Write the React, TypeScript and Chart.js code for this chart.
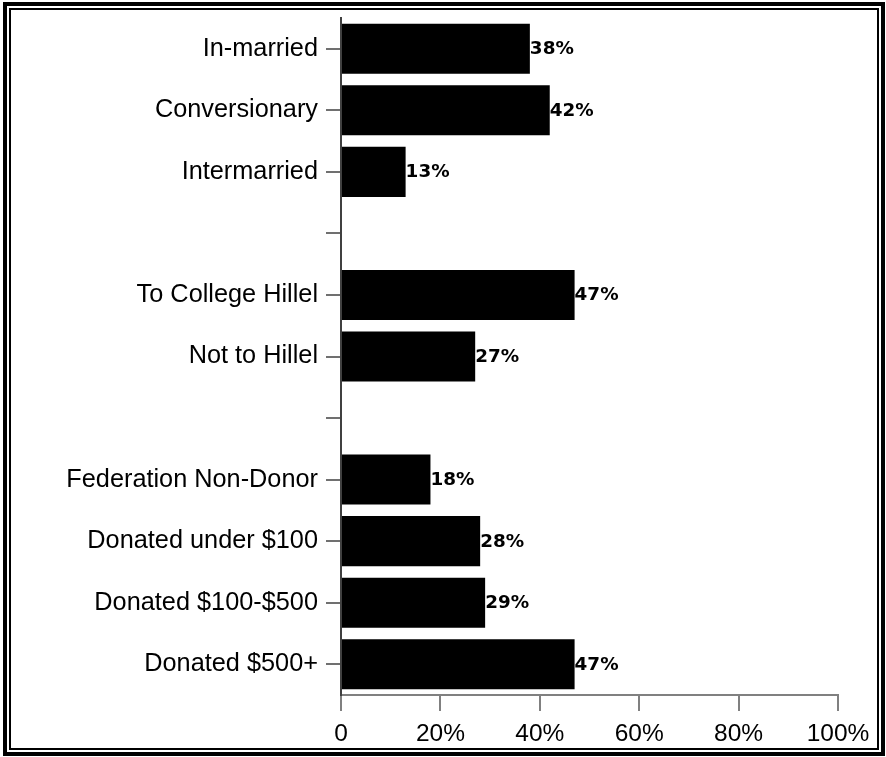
import React, { useEffect, useRef } from "react";
import { Chart, registerables } from "chart.js";

Chart.register(...registerables);

const categories = [
  "In-married",
  "Conversionary",
  "Intermarried",
  "",
  "To College Hillel",
  "Not to Hillel",
  "",
  "Federation Non-Donor",
  "Donated under $100",
  "Donated $100-$500",
  "Donated $500+",
];
const values: (number | null)[] = [38, 42, 13, null, 47, 27, null, 18, 28, 29, 47];
const xTicks = [0, 20, 40, 60, 80, 100];

const W = 886;
const H = 757;

const framePlugin = {
  id: "frame",
  beforeDraw(chart: any) {
    const ctx = chart.ctx;
    ctx.save();
    ctx.fillStyle = "#ffffff";
    ctx.fillRect(0, 0, W, H);
    ctx.strokeStyle = "#000000";
    ctx.lineWidth = 4;
    ctx.strokeRect(5, 4, 878, 750);
    ctx.lineWidth = 2;
    ctx.strokeRect(10, 9, 868, 740);
    ctx.restore();
  },
};

const valueLabelPlugin = {
  id: "valueLabels",
  afterDatasetsDraw(chart: any) {
    const ctx = chart.ctx;
    const meta = chart.getDatasetMeta(0);
    ctx.save();
    ctx.fillStyle = "#000000";
    ctx.font = "bold 17px 'DejaVu Sans'";
    ctx.textAlign = "left";
    ctx.textBaseline = "middle";
    meta.data.forEach((bar: any, i: number) => {
      const v = values[i];
      if (v === null || v === undefined) return;
      ctx.save();
      ctx.translate(bar.x, bar.y + 1);
      ctx.scale(1.08, 1);
      ctx.fillText(v + "%", 0, 0);
      ctx.restore();
    });
    ctx.restore();
  },
};

export default function App() {
  const ref = useRef<HTMLCanvasElement | null>(null);
  useEffect(() => {
    if (!ref.current) return;
    const chart = new Chart(ref.current, {
      type: "bar",
      data: {
        labels: categories,
        datasets: [
          {
            data: values as any,
            backgroundColor: "#000000",
            borderWidth: 0,
            categoryPercentage: 1,
            barPercentage: 0.813,
          },
        ],
      },
      options: {
        indexAxis: "y",
        animation: false,
        responsive: false,
        devicePixelRatio: 1,
        layout: { padding: { top: 18, right: 48, bottom: 0, left: 0 } },
        plugins: {
          legend: { display: false },
          tooltip: { enabled: false },
        },
        scales: {
          x: {
            type: "linear",
            min: 0,
            max: 100,
            afterBuildTicks(scale: any) {
              scale.ticks = xTicks.map((v) => ({ value: v }));
            },
            afterFit(scale: any) {
              scale.height = 62;
              scale.paddingLeft = 0;
              scale.paddingRight = 0;
            },
            ticks: {
              color: "#000000",
              font: { family: "'Liberation Sans', Arial", size: 24.5 },
              padding: 9,
              maxRotation: 0,
              callback: (v: any) => (Number(v) === 0 ? "0" : v + "%"),
            },
            grid: {
              drawOnChartArea: false,
              drawTicks: true,
              tickLength: 16,
              color: "#808080",
              lineWidth: 2,
            },
            border: { color: "#808080", width: 2 },
          },
          y: {
            type: "category",
            afterFit(scale: any) {
              scale.width = 341;
              scale.paddingTop = 0;
              scale.paddingBottom = 0;
            },
            ticks: {
              color: "#000000",
              font: { family: "'Liberation Sans', Arial", size: 25.3 },
              padding: 8,
              autoSkip: false,
            },
            grid: {
              offset: false,
              drawOnChartArea: false,
              drawTicks: true,
              tickLength: 15,
              color: "#707070",
              lineWidth: 2,
            },
            border: { color: "#404040", width: 2 },
          },
        },
      },
      plugins: [framePlugin, valueLabelPlugin],
    });
    return () => chart.destroy();
  }, []);
  return (
    <div style={{ position: "absolute", left: 0, top: 0, width: W, height: H }}>
      <canvas ref={ref} width={W} height={H} style={{ width: W, height: H, display: "block" }} />
    </div>
  );
}
